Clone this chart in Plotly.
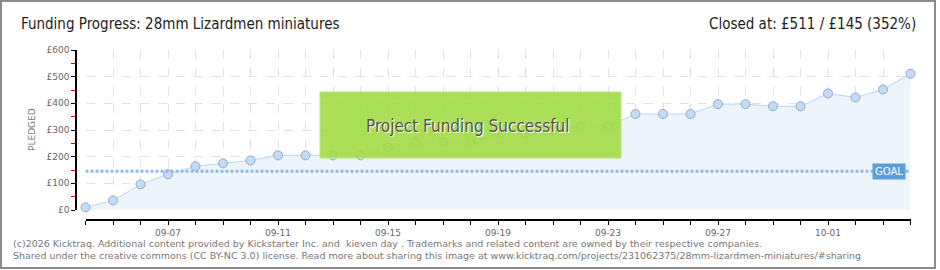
import plotly.graph_objects as go
import pandas as pd

# ---- data ----
dates = pd.date_range("2026-09-04", "2026-10-04", freq="D").strftime("%Y-%m-%d").tolist()
pledged = [10, 36, 96, 134, 164, 175, 186, 205, 205, 205, 205, 236, 255, 255, 255,
           286, 286, 300, 314, 314, 360, 360, 360, 397, 397, 389, 389, 437, 422, 452, 511]
goal = 145
project = "28mm Lizardmen miniatures"
y_ticks = [0, 100, 200, 300, 400, 500, 600]

W, H = 940, 270
def px(x): return x / W
def py(y): return 1 - y / H

fig = go.Figure()

# pledged area + line + markers
fig.add_trace(go.Scatter(
    x=dates, y=pledged, mode="lines+markers",
    fill="tozeroy", fillcolor="#edf4fc",
    line=dict(color="#bcd5f0", width=1),
    marker=dict(size=9, color="#c4dbf5", line=dict(color="#93a9c9", width=1)),
    cliponaxis=False, hoverinfo="skip", showlegend=False))

# goal line
fig.add_trace(go.Scatter(
    x=[dates[0], dates[-1]], y=[goal, goal], mode="lines",
    line=dict(color="#8db8e8", width=3, dash="3px,2px"),
    hoverinfo="skip", showlegend=False))

fig.update_layout(
    width=W, height=H, margin=dict(l=0, r=0, t=0, b=0),
    paper_bgcolor="white", plot_bgcolor="white",
    font=dict(family="DejaVu Sans", size=9, color="#666"),
    xaxis=dict(
        domain=[px(85.5), px(910.5)], range=[dates[0], dates[-1]],
        anchor="free", position=py(220),
        type="date", tickformat="%m-%d", tick0="2026-09-07", dtick=4 * 86400000,
        showline=True, linecolor="#000", linewidth=1.5,
        ticks="outside", ticklen=4, tickcolor="#000", tickwidth=1,
        showgrid=True, gridcolor="#e2e2e2", griddash="dash", gridwidth=1,
        minor=dict(dtick=86400000, ticks="outside", ticklen=4, tickcolor="#000",
                   showgrid=True, gridcolor="#e2e2e2", griddash="dash"),
        tickfont=dict(family="DejaVu Sans", size=9, color="#666"),
        zeroline=False, automargin=False, fixedrange=True),
    yaxis=dict(
        domain=[py(210), py(50)], range=[0, 600],
        anchor="free", position=px(76),
        tickvals=y_ticks, ticktext=[f"£{v}" for v in y_ticks],
        showline=True, linecolor="#000", linewidth=1.5,
        ticks="outside", ticklen=4, tickcolor="#000", tickwidth=1,
        showgrid=True, gridcolor="#e2e2e2", griddash="dash", gridwidth=1,
        minor=dict(dtick=50, tick0=50, ticks="outside", ticklen=4, tickcolor="#e00000",
                   showgrid=False),
        tickfont=dict(family="DejaVu Sans", size=9, color="#666"),
        zeroline=False, automargin=False, fixedrange=True),
)

shapes = [
    # outer border
    dict(type="rect", xref="paper", yref="paper",
         x0=px(1), x1=px(935), y0=py(268), y1=py(1),
         line=dict(color="#8a8a8a", width=2), fillcolor="rgba(0,0,0,0)", layer="above"),
    # success box
    dict(type="rect", xref="paper", yref="paper",
         x0=px(320), x1=px(621), y0=py(158), y1=py(92),
         line=dict(color="#b9e47c", width=1), fillcolor="rgba(163,219,70,0.9)", layer="above"),
]
fig.update_layout(shapes=shapes)

pct = round(pledged[-1] / goal * 100)
title_font = dict(family="DejaVu Sans Condensed, Liberation Sans Narrow", size=15, color="#222")
annotations = [
    dict(text=f"Funding Progress: {project}", xref="paper", yref="paper",
         x=px(19), y=py(24), xanchor="left", yanchor="middle", showarrow=False,
         font=title_font),
    dict(text=f"Closed at: £{pledged[-1]} / £{goal} ({pct}%)", xref="paper", yref="paper",
         x=px(918), y=py(24), xanchor="right", yanchor="middle", showarrow=False,
         font=title_font),
    dict(text="PLEDGED", xref="paper", yref="paper", x=px(32), y=py(130),
         xanchor="center", yanchor="middle", textangle=-90, showarrow=False,
         font=dict(family="DejaVu Sans", size=9, color="#777")),
    dict(text="Project Funding Successful", xref="paper", yref="paper",
         x=px(468), y=py(126), xanchor="center", yanchor="middle", showarrow=False,
         font=dict(family="DejaVu Sans Condensed", size=17, color="#555",
                   shadow="1px 1px 0px #ffffff")),
    dict(text="GOAL", x=dates[-1], y=goal, xref="x", yref="y",
         xanchor="right", yanchor="middle", xshift=-5, showarrow=False,
         bgcolor="#5b9ddd", borderpad=2,
         font=dict(family="DejaVu Sans", size=10, color="white")),
    dict(text="(c)2026 Kicktraq. Additional content provided by Kickstarter Inc. and  kieven day . "
              "Trademarks and related content are owned by their respective companies.",
         xref="paper", yref="paper", x=px(11), y=py(243), xanchor="left", yanchor="middle",
         showarrow=False, font=dict(family="DejaVu Sans", size=9.5, color="#777")),
    dict(text="Shared under the creative commons (CC BY-NC 3.0) license. Read more about sharing "
              "this image at www.kicktraq.com/projects/231062375/28mm-lizardmen-miniatures/#sharing",
         xref="paper", yref="paper", x=px(11), y=py(255), xanchor="left", yanchor="middle",
         showarrow=False, font=dict(family="DejaVu Sans", size=9.5, color="#777")),
]
fig.update_layout(annotations=annotations)

fig.write_html("out.html")
